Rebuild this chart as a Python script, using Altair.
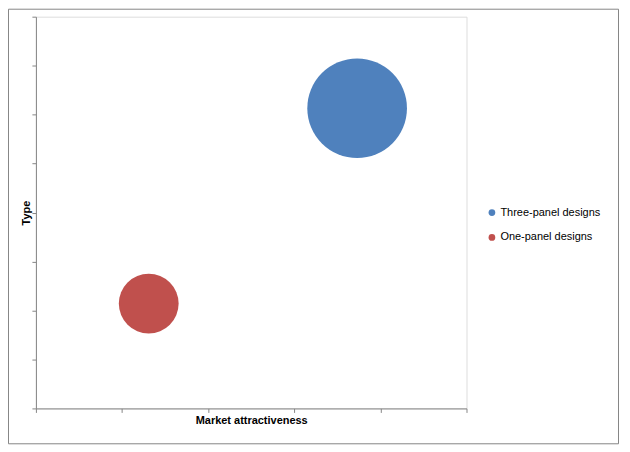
import altair as alt
import pandas as pd

series = ["Three-panel designs", "One-panel designs"]
attractiveness = [3.73, 1.31]
type_score = [6.13, 2.14]
bubble_size = [25.0, 9.0]
colors = ["#4F81BD", "#C0504D"]
x_ticks = [0, 1, 2, 3, 4, 5]
y_ticks = [0, 1, 2, 3, 4, 5, 6, 7, 8]

df = pd.DataFrame({
    "series": series,
    "x": attractiveness,
    "y": type_score,
    "size": bubble_size,
})

W, H = 432, 393
FONT = "Liberation Sans"
GRAY = "#868686"

border = alt.Chart(pd.DataFrame({"a": [0]})).mark_rect(
    fill=None, stroke=GRAY, strokeWidth=1
).encode(
    x=alt.value(-27.5), x2=alt.value(584.5),
    y=alt.value(-7.5), y2=alt.value(428.5),
)

bubbles = alt.Chart(df).mark_circle(opacity=1).encode(
    x=alt.X("x:Q", scale=alt.Scale(domain=[0, 5], nice=False, zero=False),
            axis=alt.Axis(title="Market attractiveness", values=x_ticks, labels=False,
                          grid=False, tickSize=4, domainColor=GRAY, tickColor=GRAY,
                          titleFont=FONT, titleFontSize=11, titleFontWeight="bold",
                          titleColor="#000000", titlePadding=2)),
    y=alt.Y("y:Q", scale=alt.Scale(domain=[0, 8], nice=False, zero=False),
            axis=alt.Axis(title="Type", values=y_ticks, labels=False,
                          grid=False, tickSize=4, domainColor=GRAY, tickColor=GRAY,
                          titleFont=FONT, titleFontSize=11, titleFontWeight="bold",
                          titleColor="#000000", titlePadding=0)),
    size=alt.Size("size:Q", scale=alt.Scale(domain=[0, 25], range=[0, 10000], zero=True),
                  legend=None),
    color=alt.Color("series:N", scale=alt.Scale(domain=series, range=colors),
                    legend=alt.Legend(title=None, orient="none", legendX=452, legendY=191,
                                      symbolType="circle", symbolSize=45, symbolStrokeWidth=0,
                                      labelFont=FONT, labelFontSize=11, labelColor="#000000",
                                      rowPadding=13, symbolOffset=0, labelOffset=3)),
)

chart = alt.layer(border, bubbles).properties(
    width=W, height=H,
    autosize=alt.AutoSizeParams(type="none"),
    padding={"left": 28, "top": 8, "right": 156, "bottom": 38},
).configure_view(stroke=None).configure(background="white")

chart.save("out.html", embed_options={"renderer": "svg", "actions": False})
